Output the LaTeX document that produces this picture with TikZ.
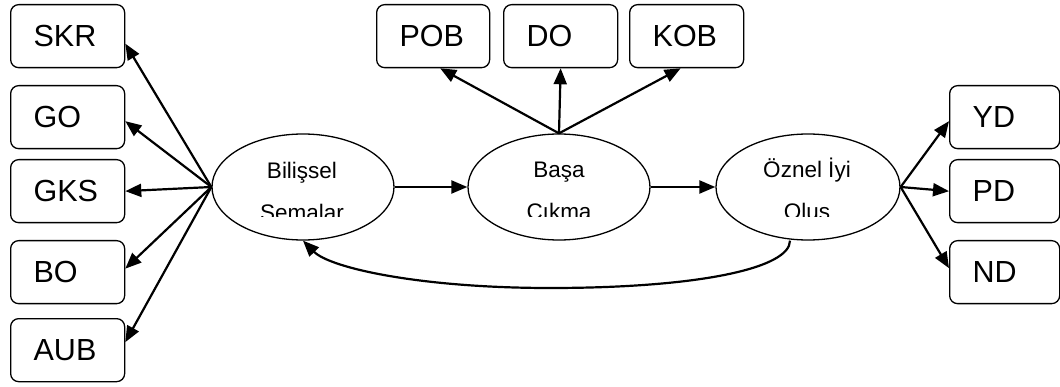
\documentclass[tikz,border=0pt]{standalone}
\usepackage{fontspec}
\setmainfont{Liberation Sans}
\usetikzlibrary{arrows.meta,shapes.geometric,calc}
\begin{document}
\begin{tikzpicture}[x=1pt,y=-1pt,
  box/.style={draw, line width=1.3pt, rounded corners=8pt, minimum height=63pt,
    inner xsep=23pt, inner ysep=0pt, text width=#1, align=left,
    font=\fontsize{30.5}{36}\selectfont, anchor=north west},
  ell/.style={draw, ellipse, line width=1.3pt, minimum width=182pt,
    minimum height=106pt, inner sep=0pt},
  lbl/.style={inner sep=0pt, anchor=base, font=\fontsize{22.5}{27}\selectfont},
  arr/.style={-{Triangle[length=16pt,width=13pt]}, line width=2.2pt}]
\useasboundingbox (0,0) rectangle (1060,387);

% left column
\node[box=68pt] (skr) at (10,4) {SKR};
\node[box=68pt] (go)  at (10,85) {GO};
\node[box=68pt] (gks) at (10,159) {GKS};
\node[box=68pt] (bo)  at (10,240) {BO};
\node[box=68pt] (aub) at (10,318) {AUB};

% top row
\node[box=67pt] (pob) at (376,4) {POB};
\node[box=68pt] (do)  at (503,4) {DO};
\node[box=68pt] (kob) at (629,4) {KOB};

% right column
\node[box=64pt] (yd) at (949,85) {YD};
\node[box=64pt] (pd) at (949,159) {PD};
\node[box=64pt] (nd) at (949,240) {ND};

% latent variables
\node[ell] (bs) at (303,187) {};
\node[ell] (ba) at (559,187) {};
\node[ell, minimum width=184pt] (oz) at (808,187) {};

\begin{scope}
  \clip (0,120) rectangle (1060,217);
  \node[lbl] (bs1) at (302,179) {Bilişsel};
  \node[lbl] (bs2) at (302,221) {Şemalar};
  \node[lbl] (ba1) at (559,178) {Başa};
  \node[lbl] (ba2) at (559,220) {Çıkma};
  \node[lbl] (oz1) at (807,178) {Öznel İyi};
  \node[lbl] (oz2) at (807,220) {Oluş};
\end{scope}

% indicators of Bilişsel Şemalar
\draw[arr] (bs.west) -- ($(skr.east)+(0,7.5)$);
\draw[arr] (bs.west) -- ($(go.east)+(0,4)$);
\draw[arr] (bs.west) -- (gks.east);
\draw[arr] (bs.west) -- ($(bo.east)+(0,-3.5)$);
\draw[arr] (bs.west) -- ($(aub.east)+(0,-8)$);

% indicators of Başa Çıkma
\draw[arr] (ba.north) -- ($(pob.south)+(7,0)$);
\draw[arr] (ba.north) -- (do.south);
\draw[arr] (ba.north) -- ($(kob.south)+(-6,0)$);

% indicators of Öznel İyi Oluş
\draw[arr] (oz.east) -- ($(yd.west)+(0,4)$);
\draw[arr] (oz.east) -- (pd.west);
\draw[arr] (oz.east) -- ($(nd.west)+(0,-4)$);

% structural paths
\draw[arr] (bs.east) -- (ba.west);
\draw[arr] (ba.east) -- (oz.west);
\coordinate (ozb) at ($(oz.south)+(-18,0)$);
\draw[arr] (ozb) .. controls (790,268) and (700,288) .. (550,288)
  .. controls (420,288) and (330,268) .. (bs.south);
\end{tikzpicture}
\end{document}
